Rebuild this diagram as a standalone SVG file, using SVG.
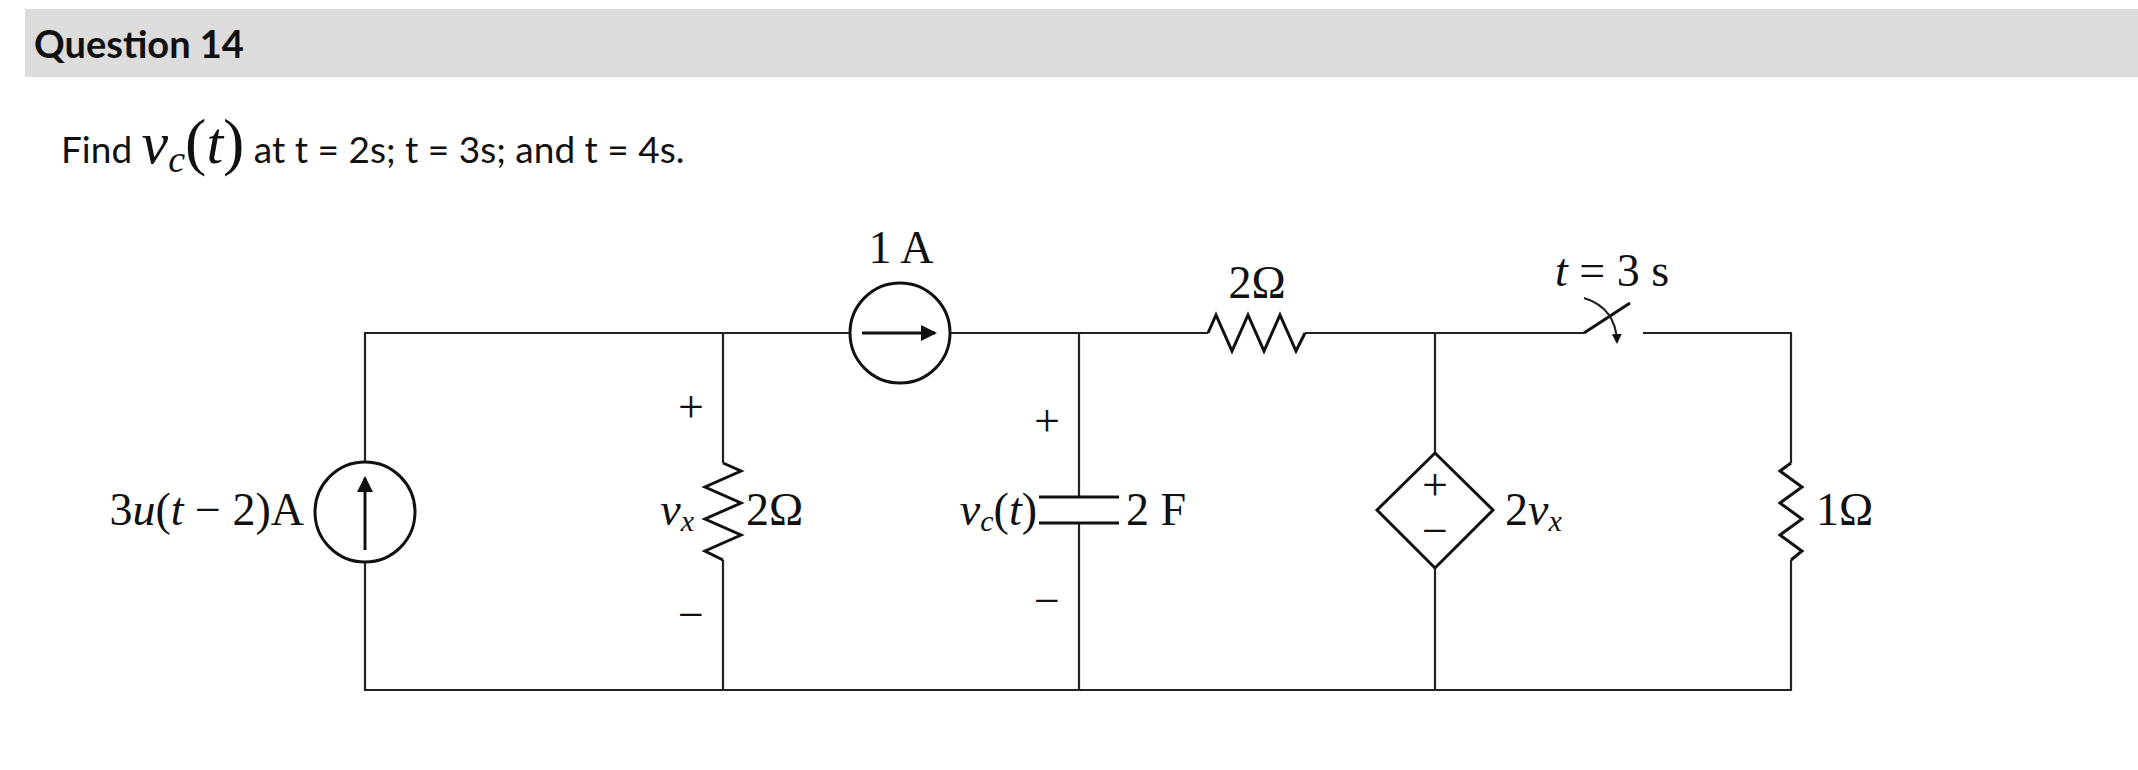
<svg xmlns="http://www.w3.org/2000/svg" width="2138" height="770" viewBox="0 0 2138 770">
<style>
.w{stroke:#222;stroke-width:2.2;fill:none}
.c{stroke:#111;stroke-width:3;fill:none}
.m{font-family:"Liberation Serif",serif;font-size:46px;fill:#111}
.i{font-style:italic}
.h{font-family:Lato,"Liberation Sans",sans-serif;fill:#111}
</style>
<defs><marker id="ah" markerWidth="10" markerHeight="10" refX="8" refY="5" orient="auto" markerUnits="userSpaceOnUse"><path d="M0,0 L10,5 L0,10 Z" fill="#111"/></marker>
<marker id="ah2" markerWidth="16" markerHeight="16" refX="14" refY="8" orient="auto" markerUnits="userSpaceOnUse"><path d="M0,0 L16,8 L0,16 Z" fill="#111"/></marker></defs>
<rect width="2138" height="770" fill="#fff"/>
<g id="header"><rect x="25" y="9" width="2113" height="68" fill="#dcdcdc"/>
<text x="34" y="58" class="h" font-size="38" font-weight="bold">Question 14</text></g>
<g id="prompt"><text x="61" y="163" class="h" font-size="37">Find <tspan font-family="Liberation Serif,serif" font-style="italic" font-size="60">v</tspan><tspan font-family="Liberation Serif,serif" font-style="italic" font-size="38" dy="9">c</tspan><tspan font-family="Liberation Serif,serif" font-size="64" dy="-9">(</tspan><tspan font-family="Liberation Serif,serif" font-style="italic" font-size="60">t</tspan><tspan font-family="Liberation Serif,serif" font-size="64">)</tspan> at t = 2s; t = 3s; and t = 4s.</text></g>
<g id="wires">
<path class="w" d="M365,461 V333 H850 M950,333 H1208 M1305,333 H1584 M1643,333 H1791 V463 M1791,560 V690 H365 V562"/>
<path class="w" d="M723,333 V463 M723,560 V690"/>
<path class="w" d="M1079,333 V497 M1079,523 V690"/>
<path class="w" d="M1435,333 V453 M1435,568 V690"/>
</g>
<g id="src1"><circle cx="365" cy="512" r="50" class="c"/><line x1="365" y1="550" x2="365" y2="478" class="c" marker-end="url(#ah2)"/>
<text x="304" y="525" class="m" text-anchor="end">3<tspan class="i">u</tspan>(<tspan class="i">t</tspan> − 2)A</text></g>
<g id="src1A"><circle cx="900" cy="333" r="50" class="c"/><line x1="862" y1="333" x2="935" y2="333" class="c" marker-end="url(#ah2)"/>
<text x="901" y="263" class="m" text-anchor="middle">1 A</text></g>
<g id="R1"><polyline class="c" points="723,463 741,471 705,487 741,503 705,519 741,535 705,551 723,560"/>
<text x="691" y="422" class="m" text-anchor="middle">+</text><text x="691" y="630" class="m" text-anchor="middle">−</text>
<text x="694" y="525" class="m i" text-anchor="end">v<tspan font-size="30" dy="6">x</tspan></text>
<text x="746" y="525" class="m">2Ω</text></g>
<g id="C"><line x1="1039" y1="497" x2="1119" y2="497" class="c"/><line x1="1039" y1="523" x2="1119" y2="523" class="c"/>
<text x="1047" y="436" class="m" text-anchor="middle">+</text><text x="1047" y="616" class="m" text-anchor="middle">−</text>
<text x="1037" y="525" class="m" text-anchor="end"><tspan class="i">v</tspan><tspan class="i" font-size="30" dy="6">c</tspan><tspan dy="-6">(</tspan><tspan class="i">t</tspan>)</text>
<text x="1126" y="525" class="m">2 F</text></g>
<g id="R2"><polyline class="c" points="1208,333 1216,315 1232,351 1248,315 1264,351 1280,315 1296,351 1305,333"/>
<text x="1257" y="298" class="m" text-anchor="middle">2Ω</text></g>
<g id="dep"><polygon points="1435,453 1493,510 1435,568 1377,510" class="c"/>
<text x="1435" y="500" class="m" text-anchor="middle">+</text><text x="1435" y="546" class="m" text-anchor="middle">−</text>
<text x="1505" y="525" class="m">2<tspan class="i">v</tspan><tspan class="i" font-size="30" dy="6">x</tspan></text></g>
<g id="sw"><line x1="1584" y1="333" x2="1630" y2="303" class="c"/>
<path d="M1584,298 Q1616,308 1617,342" class="w" marker-end="url(#ah)"/>
<text x="1612" y="286" class="m" text-anchor="middle"><tspan class="i">t</tspan> = 3 s</text></g>
<g id="R3"><polyline class="c" points="1791,463 1780,471 1802,487 1780,503 1802,519 1780,535 1802,551 1791,560"/>
<text x="1816" y="525" class="m">1Ω</text></g>
</svg>
